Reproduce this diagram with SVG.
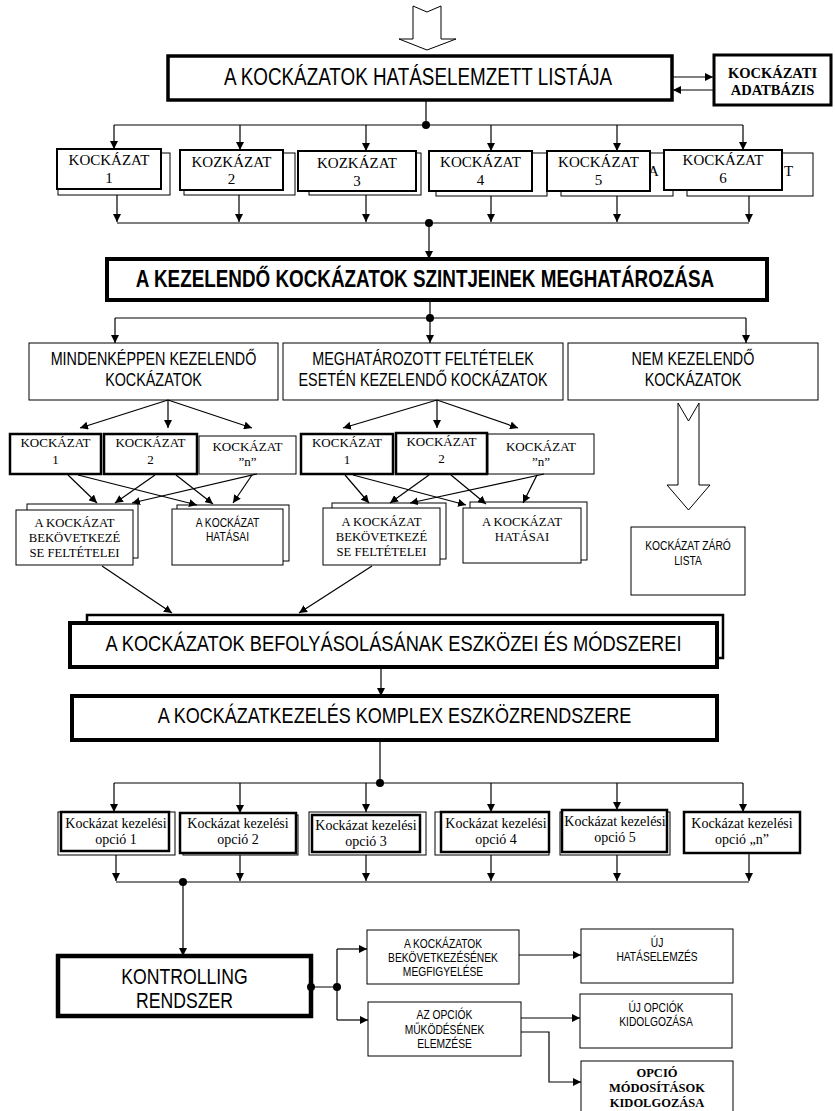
<svg xmlns="http://www.w3.org/2000/svg" width="835" height="1111" viewBox="0 0 835 1111">
<style>
  .box{fill:#fff;stroke:#000;stroke-width:1}
  .b2{stroke-width:2}
  .b25{stroke-width:2.5}
  .b3{stroke-width:3}
  .b4{stroke-width:4}
  .hollow{fill:#fff;stroke:#000;stroke-width:1}
  .conn path{fill:none;stroke:#000;stroke-width:1.2}
  .conn .arr{marker-end:url(#ah)}
  .dot{fill:#000}
  text{text-anchor:middle;fill:#000}
  .tn{font-family:"Liberation Serif","Times New Roman",serif}
  .sn{font-family:"Liberation Sans",Arial,sans-serif}
</style>
<defs>
  <marker id="ah" viewBox="0 0 8 8" refX="8" refY="4" markerWidth="8" markerHeight="8" markerUnits="userSpaceOnUse" orient="auto">
    <path d="M0,0 L8,4 L0,8 z" fill="#000"/>
  </marker>
</defs>
<rect width="835" height="1111" fill="#fff"/>

<!-- input block arrow -->
<g id="input-arrow">
  <polygon class="hollow" points="413,6 427,12 441,6 441,39 456,39 427,50 399,39 413,39"/>
</g>

<g id="impact-list">
  <rect class="box" x="168" y="56" width="504" height="44" style="stroke-width:3.5"/>
  <g transform="translate(418 0) scale(.82 1)"><text class="sn" x="0" y="85" font-size="23">A KOCKÁZATOK HATÁSELEMZETT LISTÁJA</text></g>
</g>

<g id="risk-db">
  <rect class="box b3" x="714" y="55" width="117" height="50"/>
  <text class="tn" x="772.5" y="78" font-size="14.5" font-weight="bold">KOCKÁZATI</text>
  <text class="tn" x="772.5" y="95" font-size="14.5" font-weight="bold">ADATBÁZIS</text>
</g>

<!-- first row of risks -->
<g id="risk-1">
  <rect class="box" x="58" y="153" width="112" height="42"/>
  <rect class="box b2" x="57" y="149" width="104" height="40"/>
  <text class="tn" x="109" y="165" font-size="15">KOCKÁZAT</text>
  <text class="tn" x="109" y="183" font-size="15">1</text>
</g>
<g id="risk-2">
  <rect class="box" x="184" y="153" width="111" height="42"/>
  <rect class="box b2" x="180" y="150" width="103" height="40"/>
  <text class="tn" x="231.5" y="167" font-size="15">KOZKÁZAT</text>
  <text class="tn" x="231.5" y="184" font-size="15">2</text>
</g>
<g id="risk-3">
  <rect class="box" x="309" y="153" width="112" height="42"/>
  <rect class="box b2" x="298" y="151" width="118" height="40"/>
  <text class="tn" x="357" y="168" font-size="15">KOZKÁZAT</text>
  <text class="tn" x="357" y="186" font-size="15">3</text>
</g>
<g id="risk-4">
  <rect class="box" x="436" y="153" width="111" height="43"/>
  <rect class="box b2" x="429" y="151" width="103" height="40"/>
  <text class="tn" x="480.5" y="167" font-size="15">KOCKÁZAT</text>
  <text class="tn" x="480.5" y="185" font-size="15">4</text>
</g>
<g id="risk-5">
  <rect class="box" x="561" y="153" width="112" height="43"/>
  <text class="tn" x="648" y="176" font-size="15" style="text-anchor:start">A</text>
  <rect class="box b2" x="547" y="151" width="103" height="40"/>
  <text class="tn" x="598.5" y="167" font-size="15">KOCKÁZAT</text>
  <text class="tn" x="598.5" y="185" font-size="15">5</text>
</g>
<g id="risk-6">
  <rect class="box" x="687" y="153" width="126" height="43"/>
  <text class="tn" x="784" y="176" font-size="15" style="text-anchor:start">T</text>
  <rect class="box b2" x="664" y="150" width="118" height="40"/>
  <text class="tn" x="723" y="165" font-size="15">KOCKÁZAT</text>
  <text class="tn" x="723" y="183" font-size="15">6</text>
</g>

<g id="levels">
  <rect class="box b4" x="107" y="259" width="660" height="41"/>
  <g transform="translate(425 0) scale(.82 1)"><text class="sn" x="0" y="287" font-size="23" font-weight="bold">A KEZELENDŐ KOCKÁZATOK SZINTJEINEK MEGHATÁROZÁSA</text></g>
</g>

<!-- three categories -->
<g id="cat-must">
  <rect class="box" x="29" y="343" width="249" height="57"/>
  <g transform="translate(153.5 0) scale(.82 1)">
    <text class="sn" x="0" y="365" font-size="17.5">MINDENKÉPPEN KEZELENDŐ</text>
    <text class="sn" x="0" y="386" font-size="17.5">KOCKÁZATOK</text>
  </g>
</g>
<g id="cat-conditional">
  <rect class="box" x="283" y="343" width="280" height="57"/>
  <g transform="translate(423 0) scale(.82 1)">
    <text class="sn" x="0" y="365" font-size="17.5">MEGHATÁROZOTT FELTÉTELEK</text>
    <text class="sn" x="0" y="386" font-size="17.5">ESETÉN KEZELENDŐ KOCKÁZATOK</text>
  </g>
</g>
<g id="cat-none">
  <rect class="box" x="568" y="343" width="250" height="57"/>
  <g transform="translate(693 0) scale(.82 1)">
    <text class="sn" x="0" y="365" font-size="17.5">NEM KEZELENDŐ</text>
    <text class="sn" x="0" y="386" font-size="17.5">KOCKÁZATOK</text>
  </g>
</g>

<!-- group 1 risks -->
<g id="g1-risk-1">
  <rect class="box b25" x="10" y="434" width="91" height="40"/>
  <text class="tn" x="55.5" y="447" font-size="13">KOCKÁZAT</text>
  <text class="tn" x="55.5" y="464" font-size="13">1</text>
</g>
<g id="g1-risk-2">
  <rect class="box b25" x="104" y="434" width="93" height="40"/>
  <text class="tn" x="150.5" y="447" font-size="13">KOCKÁZAT</text>
  <text class="tn" x="150.5" y="464" font-size="13">2</text>
</g>
<g id="g1-risk-n">
  <rect class="box" x="199" y="436" width="97" height="38"/>
  <text class="tn" x="247.5" y="451" font-size="13">KOCKÁZAT</text>
  <text class="tn" x="247.5" y="466" font-size="13">”n”</text>
</g>
<g id="g1-conditions">
  <rect class="box" x="27" y="504" width="111" height="54"/>
  <rect class="box" x="16" y="510" width="117" height="55"/>
  <text class="tn" x="74.5" y="527" font-size="12.7">A KOCKÁZAT</text>
  <text class="tn" x="74.5" y="542" font-size="12.7">BEKÖVETKEZÉ</text>
  <text class="tn" x="74.5" y="557" font-size="12.7">SE FELTÉTELEI</text>
</g>
<g id="g1-impacts">
  <rect class="box" x="177" y="505" width="112" height="56"/>
  <rect class="box" x="172" y="509" width="111" height="56"/>
  <g transform="translate(227.5 0) scale(.82 1)">
    <text class="sn" x="0" y="527" font-size="12.5">A KOCKÁZAT</text>
    <text class="sn" x="0" y="541" font-size="12.5">HATÁSAI</text>
  </g>
</g>

<!-- group 2 risks -->
<g id="g2-risk-1">
  <rect class="box b25" x="301" y="434" width="92" height="40"/>
  <text class="tn" x="347" y="447" font-size="13">KOCKÁZAT</text>
  <text class="tn" x="347" y="464" font-size="13">1</text>
</g>
<g id="g2-risk-2">
  <rect class="box b25" x="396" y="433" width="91" height="41"/>
  <text class="tn" x="441.5" y="446" font-size="13">KOCKÁZAT</text>
  <text class="tn" x="441.5" y="463" font-size="13">2</text>
</g>
<g id="g2-risk-n">
  <rect class="box" x="488" y="434" width="106" height="40"/>
  <text class="tn" x="541" y="451" font-size="13">KOCKÁZAT</text>
  <text class="tn" x="541" y="466" font-size="13">”n”</text>
</g>
<g id="g2-conditions">
  <rect class="box" x="332" y="503" width="114" height="56"/>
  <rect class="box" x="323" y="508" width="117" height="57"/>
  <text class="tn" x="381.5" y="526" font-size="12.7">A KOCKÁZAT</text>
  <text class="tn" x="381.5" y="541" font-size="12.7">BEKÖVETKEZÉ</text>
  <text class="tn" x="381.5" y="556" font-size="12.7">SE FELTÉTELEI</text>
</g>
<g id="g2-impacts">
  <rect class="box" x="470" y="502" width="117" height="58"/>
  <rect class="box" x="463" y="508" width="118" height="55"/>
  <text class="tn" x="522" y="526" font-size="12.7">A KOCKÁZAT</text>
  <text class="tn" x="522" y="541" font-size="12.7">HATÁSAI</text>
</g>

<!-- not treated branch -->
<g id="closing-arrow">
  <polygon class="hollow" points="678,403 688.5,421 699,403 699,485 710,485 688.5,510 667,485 678,485"/>
</g>
<g id="closing-list">
  <rect class="box" x="631" y="527" width="114" height="68"/>
  <g transform="translate(688 0) scale(.82 1)">
    <text class="sn" x="0" y="550" font-size="12.5">KOCKÁZAT ZÁRÓ</text>
    <text class="sn" x="0" y="565" font-size="12.5">LISTA</text>
  </g>
</g>

<g id="tools-methods">
  <rect class="box b25" x="87" y="615" width="636" height="43"/>
  <rect class="box b4" x="70" y="623" width="647" height="44"/>
  <g transform="translate(393.5 0) scale(.83 1)"><text class="sn" x="0" y="651" font-size="22">A KOCKÁZATOK BEFOLYÁSOLÁSÁNAK ESZKÖZEI ÉS MÓDSZEREI</text></g>
</g>

<g id="tool-system">
  <rect class="box b4" x="72" y="696" width="645" height="44"/>
  <g transform="translate(394.5 0) scale(.82 1)"><text class="sn" x="0" y="723" font-size="22">A KOCKÁZATKEZELÉS KOMPLEX ESZKÖZRENDSZERE</text></g>
</g>

<!-- treatment options -->
<g id="option-1">
  <rect class="box" x="58" y="812" width="117" height="43"/>
  <rect class="box b25" x="61" y="812" width="108" height="39"/>
  <text class="tn" x="116" y="828" font-size="14">Kockázat kezelési</text>
  <text class="tn" x="116" y="844" font-size="14">opció 1</text>
</g>
<g id="option-2">
  <rect class="box" x="183" y="815" width="115" height="40"/>
  <rect class="box b25" x="180" y="813" width="116" height="40"/>
  <text class="tn" x="238" y="828" font-size="14">Kockázat kezelési</text>
  <text class="tn" x="238" y="844" font-size="14">opció 2</text>
</g>
<g id="option-3">
  <rect class="box" x="309" y="812" width="117" height="43"/>
  <rect class="box b25" x="312" y="815" width="108" height="37"/>
  <text class="tn" x="366" y="830" font-size="14">Kockázat kezelési</text>
  <text class="tn" x="366" y="846" font-size="14">opció 3</text>
</g>
<g id="option-4">
  <rect class="box" x="435" y="812" width="114" height="43"/>
  <rect class="box b25" x="441" y="812" width="108" height="40"/>
  <text class="tn" x="496" y="828" font-size="14">Kockázat kezelési</text>
  <text class="tn" x="496" y="844" font-size="14">opció 4</text>
</g>
<g id="option-5">
  <rect class="box" x="560" y="812" width="110" height="43"/>
  <rect class="box b25" x="562" y="810" width="105" height="42"/>
  <text class="tn" x="615" y="826" font-size="14">Kockázat kezelési</text>
  <text class="tn" x="615" y="842" font-size="14">opció 5</text>
</g>
<g id="option-n">
  <rect class="box b25" x="684" y="812" width="116" height="41"/>
  <text class="tn" x="742" y="828" font-size="14">Kockázat kezelési</text>
  <text class="tn" x="742" y="844" font-size="14">opció „n”</text>
</g>

<g id="controlling">
  <rect class="box" x="58" y="956" width="253" height="60" style="stroke-width:4.5"/>
  <g transform="translate(184.5 0) scale(.82 1)">
    <text class="sn" x="0" y="984" font-size="21.5">KONTROLLING</text>
    <text class="sn" x="0" y="1008" font-size="21.5">RENDSZER</text>
  </g>
</g>
<g id="monitoring">
  <rect class="box" x="367" y="930" width="152" height="54"/>
  <g transform="translate(443 0) scale(.82 1)">
    <text class="sn" x="0" y="948" font-size="12.5">A KOCKÁZATOK</text>
    <text class="sn" x="0" y="962" font-size="12.5">BEKÖVETKEZÉSÉNEK</text>
    <text class="sn" x="0" y="976" font-size="12.5">MEGFIGYELÉSE</text>
  </g>
</g>
<g id="new-impact">
  <rect class="box" x="581" y="929" width="152" height="54"/>
  <g transform="translate(657 0) scale(.82 1)">
    <text class="sn" x="0" y="947" font-size="12.5">ÚJ</text>
    <text class="sn" x="0" y="961" font-size="12.5">HATÁSELEMZÉS</text>
  </g>
</g>
<g id="option-analysis">
  <rect class="box" x="368" y="1002" width="153" height="54"/>
  <g transform="translate(444.5 0) scale(.82 1)">
    <text class="sn" x="0" y="1019" font-size="12.5">AZ OPCIÓK</text>
    <text class="sn" x="0" y="1034" font-size="12.5">MŰKÖDÉSÉNEK</text>
    <text class="sn" x="0" y="1048" font-size="12.5">ELEMZÉSE</text>
  </g>
</g>
<g id="new-options">
  <rect class="box" x="580" y="994" width="152" height="54"/>
  <g transform="translate(656 0) scale(.82 1)">
    <text class="sn" x="0" y="1012" font-size="12.5">ÚJ OPCIÓK</text>
    <text class="sn" x="0" y="1026" font-size="12.5">KIDOLGOZÁSA</text>
  </g>
</g>
<g id="option-changes">
  <rect class="box" x="581" y="1061" width="152" height="52"/>
  <text class="tn" x="657" y="1077" font-size="12.5" font-weight="bold">OPCIÓ</text>
  <text class="tn" x="657" y="1092" font-size="12.5" font-weight="bold">MÓDOSÍTÁSOK</text>
  <text class="tn" x="657" y="1107" font-size="12.5" font-weight="bold">KIDOLGOZÁSA</text>
</g>

<g id="connectors" class="conn">
  <!-- list <-> database -->
  <path class="arr" d="M672,77 H713"/>
  <path class="arr" d="M714,90 H673"/>
  <!-- list to first row -->
  <path d="M426,100 V125 M114,125 H743"/>
  <path class="arr" d="M114,125 V149"/>
  <path class="arr" d="M240,125 V150"/>
  <path class="arr" d="M366,125 V151"/>
  <path class="arr" d="M491,125 V151"/>
  <path class="arr" d="M617,125 V151"/>
  <path class="arr" d="M743,125 V150"/>
  <circle class="dot" cx="426" cy="125" r="4"/>
  <!-- first row collected -->
  <path class="arr" d="M117,195 V222"/>
  <path class="arr" d="M239,195 V222"/>
  <path class="arr" d="M366,195 V222"/>
  <path class="arr" d="M491,196 V222"/>
  <path class="arr" d="M617,196 V222"/>
  <path class="arr" d="M749,196 V222"/>
  <path d="M117,223 H749"/>
  <circle class="dot" cx="429" cy="223" r="4"/>
  <path class="arr" d="M429,223 V259"/>
  <!-- levels to categories -->
  <path d="M430,300 V318 M115,318 H746"/>
  <circle class="dot" cx="430" cy="318" r="4"/>
  <path class="arr" d="M115,318 V343"/>
  <path class="arr" d="M430,318 V343"/>
  <path class="arr" d="M746,318 V343"/>
  <!-- category fans -->
  <path class="arr" d="M168,400 L80,428"/>
  <path class="arr" d="M168,400 V428"/>
  <path class="arr" d="M168,400 L252,428"/>
  <path class="arr" d="M437,400 L343,428"/>
  <path class="arr" d="M437,400 V428"/>
  <path class="arr" d="M437,400 L518,428"/>
  <!-- group 1 cross links -->
  <path class="arr" d="M68,475 L97,503"/>
  <path class="arr" d="M78,475 L197,505"/>
  <path class="arr" d="M155,475 L115,503"/>
  <path class="arr" d="M176,475 L213,504"/>
  <path class="arr" d="M257,474 L132,503"/>
  <path class="arr" d="M252,475 L233,503"/>
  <!-- group 2 cross links -->
  <path class="arr" d="M345,475 L369,503"/>
  <path class="arr" d="M353,475 L466,505"/>
  <path class="arr" d="M429,475 L390,503"/>
  <path class="arr" d="M451,475 L486,504"/>
  <path class="arr" d="M544,474 L410,503"/>
  <path class="arr" d="M537,475 L523,503"/>
  <!-- conditions to tools -->
  <path class="arr" d="M102,566 L172,613"/>
  <path class="arr" d="M372,566 L299,613"/>
  <path class="arr" d="M381,667 V696"/>
  <!-- tool system to options -->
  <path d="M380,740 V783 M114,783 H743"/>
  <circle class="dot" cx="380" cy="783" r="4"/>
  <path class="arr" d="M114,783 V812"/>
  <path class="arr" d="M240,783 V813"/>
  <path class="arr" d="M366,783 V812"/>
  <path class="arr" d="M491,783 V812"/>
  <path class="arr" d="M617,783 V810"/>
  <path class="arr" d="M743,783 V812"/>
  <!-- options collected -->
  <path class="arr" d="M116,855 V881"/>
  <path class="arr" d="M240,855 V881"/>
  <path class="arr" d="M366,855 V881"/>
  <path class="arr" d="M491,855 V881"/>
  <path class="arr" d="M617,855 V881"/>
  <path class="arr" d="M749,853 V881"/>
  <path d="M116,882 H749"/>
  <circle class="dot" cx="183" cy="882" r="4"/>
  <path class="arr" d="M183,882 V956"/>
  <!-- controlling outputs -->
  <circle class="dot" cx="311" cy="987" r="4"/>
  <path d="M311,987 H337 M337,949 V1020"/>
  <circle class="dot" cx="337" cy="987" r="4"/>
  <path class="arr" d="M337,949 H367"/>
  <path class="arr" d="M337,1020 H368"/>
  <path class="arr" d="M519,955 H581"/>
  <path class="arr" d="M521,1018 H580"/>
  <path class="arr" d="M521,1032 H549 V1082 H581"/>
</g>
</svg>
